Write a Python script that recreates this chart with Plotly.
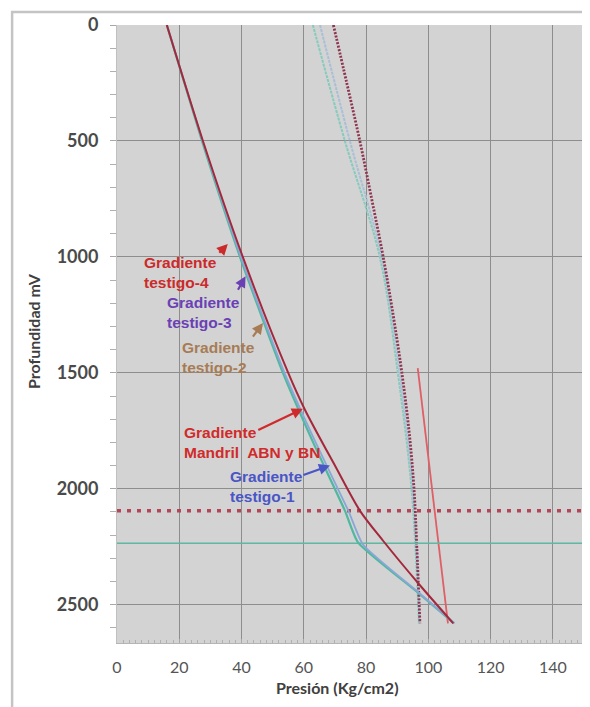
import plotly.graph_objects as go

# ---- data (pressure in Kg/cm2 vs depth in mV) ----
depth_red = [0, 500, 1000, 1500, 1660, 1900, 2094, 2223, 2416, 2580]
pres_red = [16.0, 27.6, 40.4, 55.0, 60.4, 70.0, 78.0, 85.4, 97.3, 108.0]

depth_teal = [0, 500, 1000, 1500, 1800, 2094, 2231, 2446, 2580]
pres_teal = [16.0, 27.3, 39.5, 53.3, 63.0, 73.2, 77.4, 96.5, 108.3]

depth_blue = [0, 500, 1000, 1500, 1800, 2094, 2240, 2446, 2580]
pres_blue = [16.0, 27.5, 39.8, 53.8, 63.8, 74.3, 79.0, 96.8, 108.4]

depth_dark_r = [0, 250, 500, 750, 1000, 1250, 1500, 1750, 2000, 2250, 2580]
pres_dark_r = [69.5, 73.8, 78.0, 81.8, 85.5, 88.7, 91.5, 93.8, 95.4, 96.3, 97.3]

depth_teal_r = [0, 500, 1000, 1500, 2000, 2580]
pres_teal_r = [62.9, 73.2, 84.4, 90.2, 94.6, 97.0]
pres_blue_r = [65.2, 74.8, 85.0, 90.8, 95.0, 97.2]

depth_red_r = [1480, 2580]
pres_red_r = [96.6, 106.3]

depth_h_dotted = 2095
depth_h_teal = 2235
x_span = [0, 150]

x_ticks = [0, 20, 40, 60, 80, 100, 120, 140]
y_ticks = [0, 500, 1000, 1500, 2000, 2500]

# page body has an 8px margin; reference pixel positions are shifted by it
OFF = 8
PL, PT, PW, PH = 117, 23, 467.5, 620  # plot area in window pixels

fig = go.Figure()

def add(x, y, color, width, dash="solid", smoothing=1.0):
    fig.add_trace(go.Scatter(x=x, y=y, mode="lines",
                             line=dict(color=color, width=width, dash=dash, shape="spline",
                                       smoothing=smoothing),
                             showlegend=False, hoverinfo="skip"))

# right group
add(pres_teal_r, depth_teal_r, "#86cbbd", 2, "3px,1px")
add(pres_blue_r, depth_teal_r, "#a9bfd6", 2, "3px,1px")
add(pres_dark_r, depth_dark_r, "#8e3550", 2.8, "2px,1.5px")
add(pres_red_r, depth_red_r, "#e05f66", 1.8)

# horizontal reference lines
fig.add_trace(go.Scatter(x=x_span, y=[depth_h_dotted] * 2, mode="lines",
                         line=dict(color="#b24656", width=3.5, dash="4px,6px"),
                         showlegend=False, hoverinfo="skip"))
fig.add_trace(go.Scatter(x=x_span, y=[depth_h_teal] * 2, mode="lines",
                         line=dict(color="#5fb8a2", width=1.6),
                         showlegend=False, hoverinfo="skip"))

# left group
add(pres_teal, depth_teal, "#4fb89e", 2.2, smoothing=0.5)
add(pres_blue, depth_blue, "#8aa6d8", 1.8, smoothing=0.5)
add(pres_red, depth_red, "#a4283c", 2.0, smoothing=0.8)

# ---- annotations ----
ann_font = "Liberation Sans"
labels = [
    ("Gradiente<br>testigo-4", 8.0, 1066, "#cc2a2a", (32.4, 989), (35.6, 944)),
    ("Gradiente<br>testigo-3", 15.4, 1240, "#6a40b5", (38.6, 1148), (41.3, 1083)),
    ("Gradiente<br>testigo-2", 20.2, 1434, "#a77c55", (43.3, 1350), (46.9, 1285)),
    ("Gradiente<br>Mandril  ABN y BN", 20.9, 1801, "#d02a2a", (44.9, 1750), (59.7, 1655)),
    ("Gradiente<br>testigo-1", 35.6, 1991, "#4a55c6", (59.4, 1943), (68.4, 1900)),
]
annotations = []
for text, tx, ty, col, tail, tip in labels:
    annotations.append(dict(x=tx, y=ty, xref="x", yref="y", text=text, showarrow=False,
                            xanchor="left", yanchor="middle", align="left",
                            font=dict(family=ann_font, size=15.5, color=col, weight="bold")))
    annotations.append(dict(x=tip[0], y=tip[1], ax=tail[0], ay=tail[1], xref="x", yref="y",
                            axref="x", ayref="y", text="", showarrow=True, arrowhead=2,
                            arrowsize=1, arrowwidth=2.2, arrowcolor=col))

annotations.append(dict(x=(338 - PL) / PW, y=(PT + PH - 688) / PH, xref="paper", yref="paper",
                        text="Presión (Kg/cm2)", showarrow=False, xanchor="center", yanchor="middle",
                        font=dict(family="Lato", size=16, color="#404040", weight="bold")))
annotations.append(dict(x=(33 - PL) / PW, y=(PT + PH - 330) / PH, xref="paper", yref="paper",
                        text="Profundidad mV", showarrow=False, textangle=-90,
                        xanchor="center", yanchor="middle",
                        font=dict(family="Lato", size=16, color="#404040", weight="bold")))

W, H = 590 - OFF, 707 - OFF
fig.update_layout(
    width=W, height=H,
    margin=dict(l=PL - OFF, r=W - (PL - OFF) - PW, t=PT - OFF, b=H - (PT - OFF) - PH),
    paper_bgcolor="white", plot_bgcolor="#d3d3d3",
    annotations=annotations,
    shapes=[dict(type="rect", xref="paper", yref="paper",
                 x0=(12 - PL) / PW, x1=(640 - PL) / PW,
                 y0=(PT + PH - 760) / PH, y1=(PT + PH - 10) / PH,
                 line=dict(color="#c4c4c4", width=2.5), layer="below")],
)
fig.update_xaxes(range=x_span, tickvals=x_ticks, showgrid=True, gridcolor="#8d8d8d", gridwidth=1.2,
                 zeroline=False, showline=True, linecolor="#b5b5b5", linewidth=1,
                 ticks="inside", ticklen=4, tickcolor="#a8a8a8",
                 minor=dict(dtick=2, ticks="inside", ticklen=3, tickcolor="#b0b0b0", showgrid=False),
                 ticklabelstandoff=10,
                 tickfont=dict(family="Lato", size=16, color="#555555"))
fig.update_yaxes(range=[2665, 0], tickvals=y_ticks, showgrid=True, gridcolor="#8d8d8d", gridwidth=1.2,
                 zeroline=False, showline=True, linecolor="#c0c0c0", linewidth=1,
                 ticks="outside", ticklen=6, tickcolor="#a8a8a8",
                 minor=dict(dtick=100, ticks="outside", ticklen=6, tickcolor="#b0b0b0", showgrid=False),
                 ticklabelstandoff=8,
                 tickfont=dict(family="Lato", size=18, color="#4a4a4a", weight="bold"))

fig.write_html("out.html")
